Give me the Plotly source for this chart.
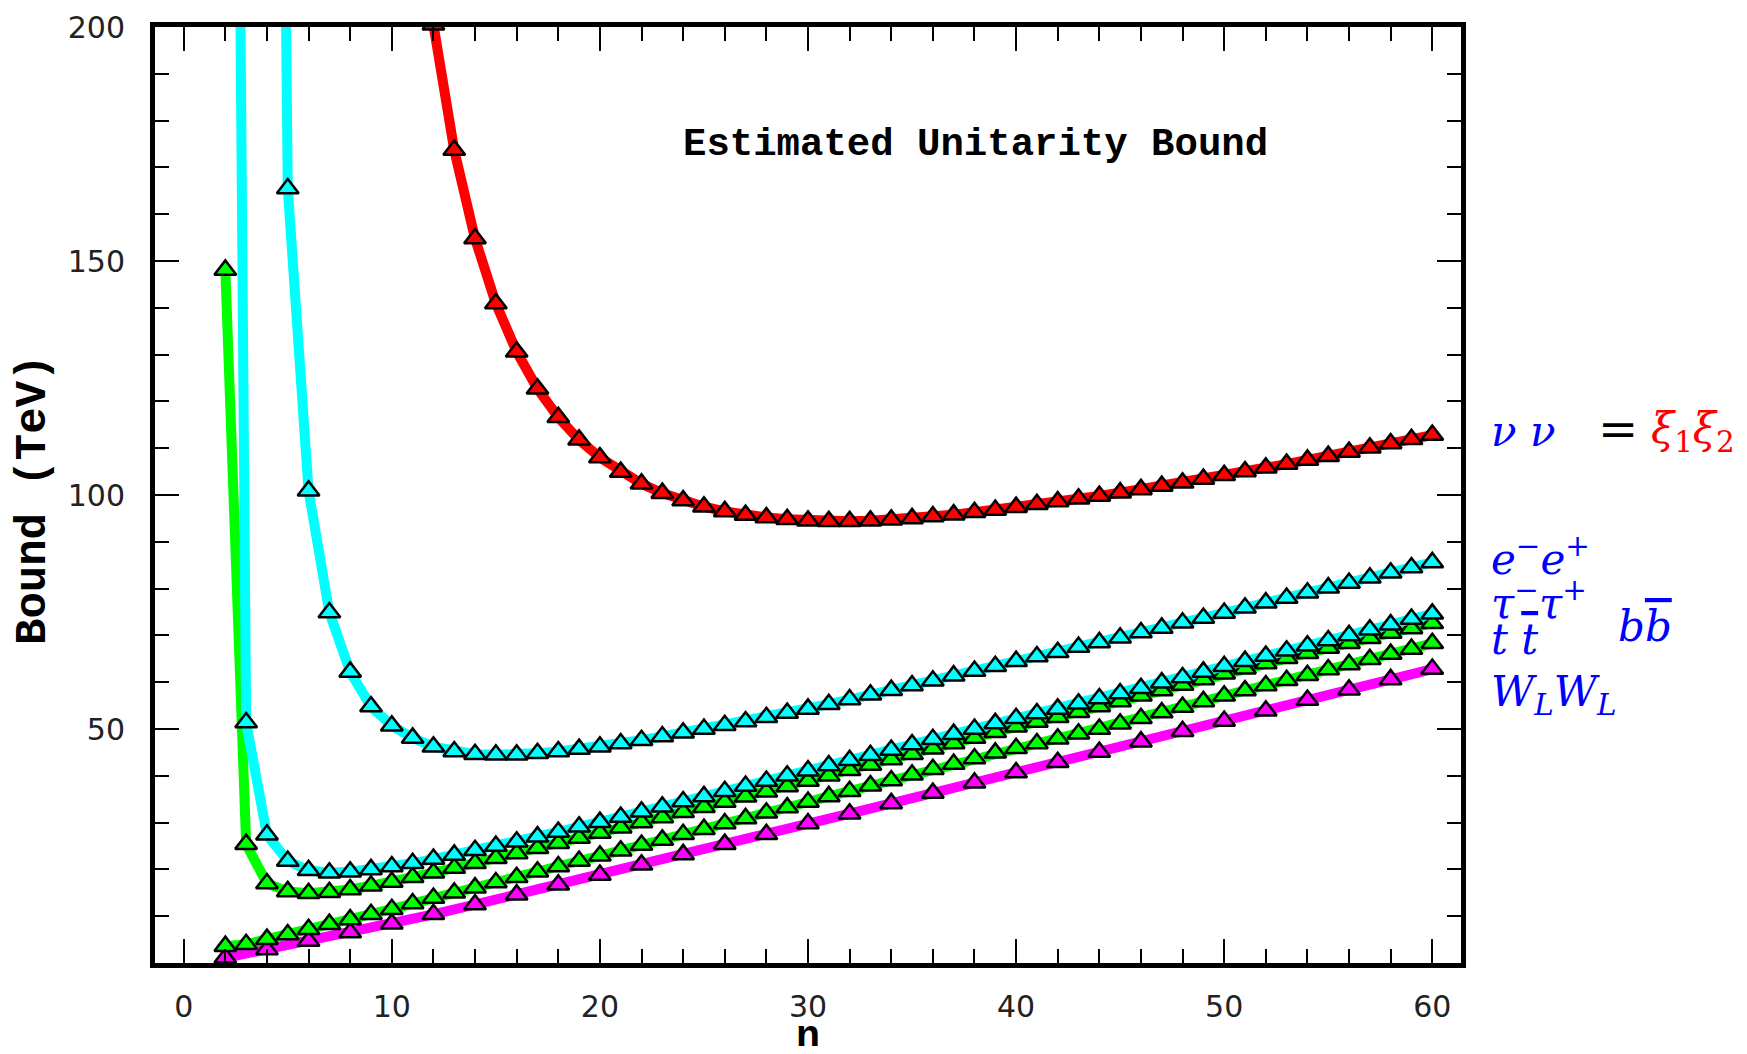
import plotly.graph_objects as go

# ---------------- data ----------------
n_red = list(range(12, 61))
red_vals = [200.5, 173.7, 154.8, 140.9, 130.6, 122.7, 116.6, 111.8, 108.0, 104.9,
            102.4, 100.4, 98.8, 97.5, 96.5, 95.7, 95.2, 94.8, 94.5, 94.4,
            94.4, 94.5, 94.7, 95.0, 95.4, 95.8, 96.3, 96.8, 97.4, 98.0,
            98.6, 99.2, 99.8, 100.5, 101.2, 101.9, 102.6, 103.4, 104.2, 105.0,
            105.8, 106.6, 107.5, 108.3, 109.2, 110.1, 111.0, 111.9, 112.8]

n_cyan_up = list(range(4, 61))
cyan_up_vals = [600.0, 165.5, 100.9, 74.9, 62.2, 54.8, 50.7, 48.1, 46.2, 45.2,
                44.6, 44.5, 44.5, 44.8, 45.2, 45.7, 46.2, 46.9, 47.6, 48.4,
                49.2, 50.0, 50.8, 51.6, 52.5, 53.4, 54.3, 55.3, 56.3, 57.3,
                58.3, 59.3, 60.3, 61.4, 62.4, 63.4, 64.5, 65.5, 66.4, 67.5,
                68.5, 69.5, 70.6, 71.6, 72.7, 73.7, 74.8, 75.9, 77.0, 78.0,
                79.1, 80.2, 81.2, 82.3, 83.4, 84.5, 85.6]

n_cyan_lo = list(range(2, 61))
cyan_lo_vals = [600.0, 51.4, 27.4, 21.8, 19.8, 19.3, 19.5, 20.0, 20.6, 21.3,
                22.2, 23.1, 24.1, 25.0, 25.9, 27.0, 28.0, 29.1, 30.1, 31.2,
                32.3, 33.4, 34.5, 35.6, 36.7, 37.8, 38.9, 40.0, 41.1, 42.2,
                43.3, 44.4, 45.5, 46.7, 47.8, 48.9, 50.0, 51.2, 52.3, 53.3,
                54.3, 55.4, 56.5, 57.6, 58.7, 59.9, 61.0, 62.2, 63.4, 64.5,
                65.6, 66.7, 67.8, 68.9, 70.0, 71.2, 72.3, 73.5, 74.6]

n_green_up = list(range(2, 61))
green_up_vals = [148.1, 25.4, 17.0, 15.3, 14.9, 15.1, 15.7, 16.5, 17.3, 18.3,
                 19.3, 20.3, 21.3, 22.4, 23.4, 24.5, 25.6, 26.7, 27.8, 28.9,
                 30.0, 31.1, 32.2, 33.3, 34.4, 35.5, 36.6, 37.7, 38.9, 40.0,
                 41.2, 42.3, 43.5, 44.6, 45.8, 46.9, 48.1, 49.3, 50.5, 51.5,
                 52.5, 53.6, 54.8, 55.9, 57.1, 58.2, 59.4, 60.6, 61.8, 62.9,
                 64.0, 65.1, 66.2, 67.3, 68.3, 69.4, 70.5, 71.5, 72.6]

n_green_lo = list(range(2, 61))
green_lo_vals = [3.6, 4.0, 5.1, 6.1, 7.2, 8.3, 9.3, 10.4, 11.5, 12.7,
                 13.9, 15.0, 16.1, 17.2, 18.3, 19.5, 20.6, 21.8, 22.9, 24.0,
                 25.2, 26.3, 27.5, 28.6, 29.8, 30.9, 32.1, 33.2, 34.4, 35.6,
                 36.7, 37.9, 39.0, 40.2, 41.4, 42.5, 43.7, 44.9, 45.9, 46.9,
                 47.9, 49.0, 50.0, 51.1, 52.3, 53.5, 54.7, 55.9, 57.1, 58.2,
                 59.3, 60.4, 61.5, 62.7, 63.8, 64.9, 66.0, 67.1, 68.3]

n_magenta = list(range(2, 61, 2))
magenta_vals = [1.1, 2.9, 4.7, 6.5, 8.4, 10.4, 12.5, 14.6, 16.7, 18.8,
                21.0, 23.2, 25.4, 27.5, 29.8, 31.9, 34.1, 36.3, 38.5, 40.7,
                42.9, 45.1, 47.3, 49.5, 51.7, 53.9, 56.2, 58.4, 60.6, 62.8]

x_ticks = [0, 10, 20, 30, 40, 50, 60]
y_ticks = [50, 100, 150, 200]

series = [
    (n_magenta, magenta_vals, "#ff00ff"),
    (n_green_lo, green_lo_vals, "#00ff00"),
    (n_green_up, green_up_vals, "#00ff00"),
    (n_cyan_lo, cyan_lo_vals, "#00ffff"),
    (n_cyan_up, cyan_up_vals, "#00ffff"),
    (n_red, red_vals, "#ff0000"),
]

fig = go.Figure()
for xs, ys, col in series:
    fig.add_trace(go.Scatter(
        x=xs, y=ys, mode="lines+markers",
        line=dict(color=col, width=10),
        marker=dict(symbol="triangle-up", size=19, color=col,
                    line=dict(color="black", width=2.5)),
        showlegend=False, hoverinfo="skip"))

OFF = 8  # page body margin
W, H = 1747 - 2 * OFF, 1054 - 2 * OFF
L, R, T, B = 155 - OFF, 1461 - OFF, 27 - OFF, 963 - OFF
pw, ph = R - L, B - T

def px(xf):
    return (xf - OFF - L) / pw

def py(yf):
    return (B - (yf - OFF)) / ph

tickfont = dict(family="DejaVu Sans", size=30, color="#222222")

fig.update_layout(
    width=W, height=H,
    margin=dict(l=L, r=W - R, t=T, b=H - B, pad=0, autoexpand=False),
    paper_bgcolor="white", plot_bgcolor="white",
    xaxis=dict(range=[-1.38, 61.38], tickmode="array", tickvals=x_ticks,
               ticktext=[str(v) for v in x_ticks], automargin=False,
               ticks="inside", ticklen=24, tickwidth=2, tickcolor="black",
               minor=dict(dtick=2, tick0=0, ticks="inside", ticklen=14,
                          tickwidth=1.5, tickcolor="black"),
               showline=True, linewidth=5, linecolor="black", mirror="ticks",
               showgrid=False, zeroline=False, tickfont=tickfont,
               ticklabelstandoff=13),
    yaxis=dict(range=[0, 200], tickmode="array", tickvals=y_ticks,
               ticktext=[str(v) for v in y_ticks], automargin=False,
               ticks="inside", ticklen=24, tickwidth=2, tickcolor="black",
               minor=dict(dtick=10, tick0=0, ticks="inside", ticklen=14,
                          tickwidth=1.5, tickcolor="black"),
               showline=True, linewidth=5, linecolor="black", mirror="ticks",
               showgrid=False, zeroline=False, tickfont=tickfont,
               ticklabelstandoff=19),
)

mono = "Courier New, Courier, Nimbus Mono PS, Liberation Mono, monospace"
ann = []
ann.append(dict(text="<b>Estimated Unitarity Bound</b>", x=px(975), y=py(145),
                xref="paper", yref="paper", showarrow=False,
                xanchor="center", yanchor="middle",
                font=dict(family=mono, size=39, color="black")))
ann.append(dict(text="<b>Bound (TeV)</b>", x=px(33), y=py(500),
                xref="paper", yref="paper", showarrow=False, textangle=-90,
                xanchor="center", yanchor="middle",
                font=dict(family=mono, size=44, color="black")))
ann.append(dict(text="<b>n</b>", x=0.5, y=py(1037),
                xref="paper", yref="paper", showarrow=False,
                xanchor="center", yanchor="middle",
                font=dict(family=mono, size=40, color="black")))

serif = "DejaVu Serif"
blue = "#0000ff"
def label(text, xf, yf, color=blue, size=42, anchor="left"):
    ann.append(dict(text=text, x=px(xf), y=py(yf), xref="paper", yref="paper",
                    showarrow=False, xanchor=anchor, yanchor="middle",
                    font=dict(family=serif, size=size, color=color)))

bar = "<span style='text-decoration:overline'>"
label("<i>ν</i>\u00a0<i>ν</i>", 1489, 431)
label("=", 1596, 429, color="black", size=48)
label("<i>ξ</i><sub>1</sub><i>ξ</i><sub>2</sub>", 1649, 431, color="#ff0000")
label("<i>e</i><sup>−</sup><i>e</i><sup>+</sup>", 1489, 556)
label("<i>τ</i><sup>−</sup><i>τ</i><sup>+</sup>", 1489, 600)
label("<i>b</i>" + bar + "<i>b</i></span>", 1616, 626)
label("<i>t</i>\u00a0" + bar + "<i>t</i></span>", 1489, 639)
label("<i>W</i><sub><i>L</i></sub><i>W</i><sub><i>L</i></sub>", 1489, 694)

fig.update_layout(annotations=ann)
fig.write_html("out.html")
